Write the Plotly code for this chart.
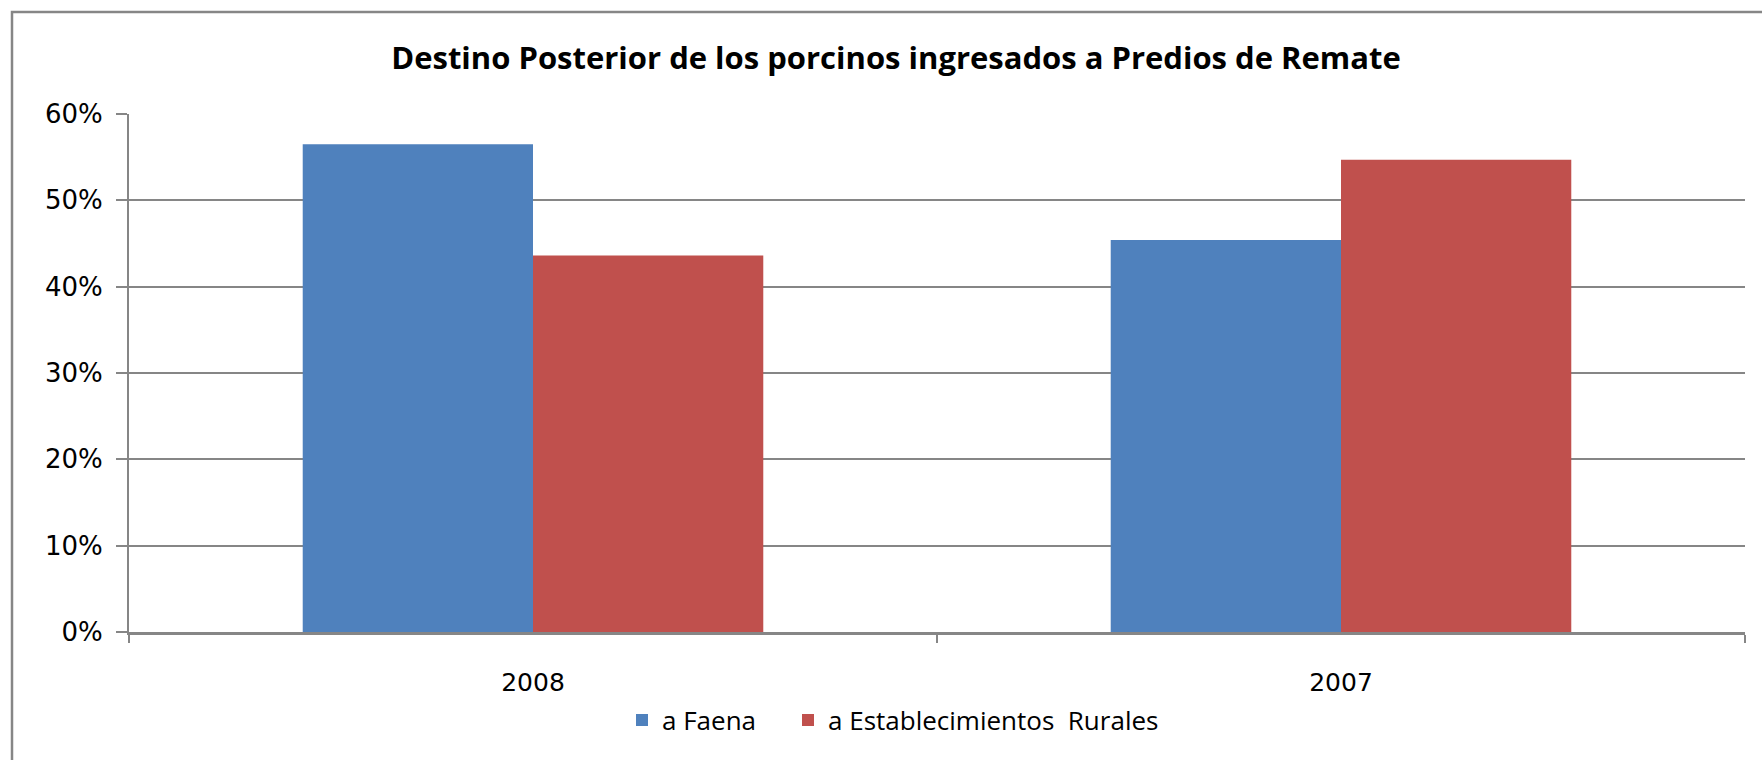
import plotly.graph_objects as go

categories = ["2008", "2007"]
series_names = ["a Faena", "a Establecimientos  Rurales"]
faena = [0.565, 0.454]
rurales = [0.436, 0.547]
y_ticks = [0, 0.1, 0.2, 0.3, 0.4, 0.5, 0.6]
y_tick_labels = ["0%", "10%", "20%", "30%", "40%", "50%", "60%"]
title_text = "Destino Posterior de los porcinos ingresados a Predios de Remate"

W, H = 1762, 760
L, R, T, B = 129, 17, 114, 128
pw, ph = W - L - R, H - T - B
GRAY = "#868686"

fig = go.Figure()
fig.add_trace(go.Bar(x=categories, y=faena, name=series_names[0], legend="legend",
                     marker=dict(color="#4F81BD", line=dict(width=0))))
fig.add_trace(go.Bar(x=categories, y=rurales, name=series_names[1], legend="legend2",
                     marker=dict(color="#C0504D", line=dict(width=0))))

leg_common = dict(orientation="h", xanchor="left",
                  y=-(720 - (H - B)) / ph, yanchor="middle",
                  font=dict(family="Open Sans", size=26, color="black"),
                  itemwidth=30, bgcolor="rgba(0,0,0,0)")

fig.update_layout(
    width=W, height=H,
    margin=dict(l=L, r=R, t=T, b=B, autoexpand=False),
    paper_bgcolor="white", plot_bgcolor="white",
    barmode="group", bargap=0.43, bargroupgap=0,
    font=dict(family="Open Sans", color="black", size=22),
    title=dict(text="<b>" + title_text + "</b>", x=896 / W, xref="container",
               xanchor="center", y=1 - 58 / H, yref="container", yanchor="middle",
               font=dict(family="Open Sans", size=31, color="black")),
    legend=dict(x=(622 - L) / pw, **leg_common),
    legend2=dict(x=(788 - L) / pw, **leg_common),
    showlegend=True,
)

fig.update_yaxes(range=[0, 0.6], tickvals=y_ticks, ticktext=y_tick_labels,
                 showgrid=True, gridcolor=GRAY, gridwidth=1.5,
                 showline=True, linecolor=GRAY, linewidth=2,
                 ticks="outside", ticklen=11, tickcolor=GRAY, tickwidth=2,
                 tickfont=dict(family="DejaVu Sans", size=26), zeroline=False,
                 ticklabelstandoff=8)
fig.update_xaxes(showgrid=False, showline=True, linecolor=GRAY, linewidth=2.5,
                 ticks="outside", tickson="boundaries", ticklen=8,
                 tickcolor=GRAY, tickwidth=2,
                 tickfont=dict(family="DejaVu Sans", size=25), ticklabelstandoff=26)

# chart-area border (top and left edges visible)
fig.add_shape(type="rect", xref="paper", yref="paper",
              x0=(12 - L) / pw, x1=(W + 10 - L) / pw,
              y0=-(H + 10 - (H - B)) / ph, y1=(H - B - 12) / ph,
              line=dict(color=GRAY, width=2.5), fillcolor="rgba(0,0,0,0)",
              layer="below")

fig.write_html("out.html", config={"displayModeBar": False},
               post_script="document.body.style.margin='0px';")
